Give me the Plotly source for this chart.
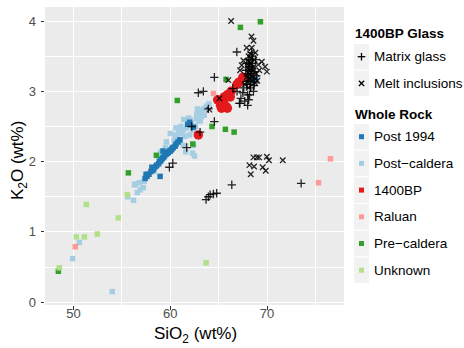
import plotly.graph_objects as go

# ---------------- data ----------------
post1994_x = [57.4, 57.6, 57.8, 58.0, 58.2, 58.3, 58.5, 58.6, 58.8, 58.9, 59.0, 59.1, 59.2, 59.3, 59.4,
              59.5, 59.6, 59.7, 59.8, 59.9, 60.0, 60.1, 60.2, 60.3, 60.5, 60.6, 60.8, 61.0, 61.8, 62.0,
              62.4, 58.95, 59.25, 68.8, 57.5, 58.1]
post1994_y = [1.76, 1.79, 1.82, 1.86, 1.88, 1.90, 1.93, 1.95, 1.97, 2.00, 2.01, 2.03, 2.05, 2.06, 2.08,
              2.10, 2.11, 2.12, 2.13, 2.15, 2.15, 2.17, 2.19, 2.20, 2.22, 2.25, 2.28, 2.31, 2.53, 2.56,
              2.49, 1.79, 2.15, 3.17, 1.82, 1.92]

postcaldera_x = [49.9, 50.6, 54.0, 55.6, 56.2, 56.3, 56.6, 56.4, 56.8, 57.3, 56.9, 57.2, 58.3, 59.0,
                 59.6, 60.0, 60.2, 60.3, 60.5, 60.7, 61.0, 61.0, 61.35, 61.35, 61.6, 62.05, 62.3, 62.5,
                 62.4, 62.7, 62.74, 63.0, 63.2, 63.42, 63.6, 63.77, 64.0, 61.8, 62.2, 61.2, 60.8, 62.9,
                 63.3, 61.5, 60.4, 60.9, 61.1, 61.7, 62.0, 62.6, 63.1, 63.5, 62.8, 61.4, 59.5, 59.2,
                 58.8, 60.6, 61.9, 62.3]
postcaldera_y = [0.62, 0.85, 0.15, 1.50, 1.45, 1.67, 1.56, 1.68, 1.70, 1.72, 1.60, 1.63, 1.86, 2.13,
                 2.28, 2.40, 2.17, 2.21, 2.38, 2.35, 2.28, 2.45, 2.45, 2.23, 2.14, 2.59, 2.12, 2.08,
                 2.23, 2.62, 2.68, 2.70, 2.64, 2.75, 2.76, 2.79, 2.82, 2.52, 2.55, 2.40, 2.30, 2.58,
                 2.72, 2.36, 2.30, 2.42, 2.50, 2.48, 2.38, 2.50, 2.58, 2.66, 2.75, 2.60, 2.20, 2.15,
                 2.05, 2.48, 2.62, 2.45]

bp1400_x = [62.9, 64.9, 65.2, 65.5, 65.8, 65.9, 66.2, 66.3, 65.9, 66.9, 67.1, 67.5, 65.6, 65.3]
bp1400_y = [2.38, 2.88, 2.80, 2.85, 2.78, 2.95, 2.92, 3.00, 2.76, 3.10, 3.13, 3.20, 2.92, 2.76]

raluan_x = [50.19, 76.56, 75.32, 64.46]
raluan_y = [0.79, 2.04, 1.70, 2.97]

precaldera_x = [48.43, 55.67, 58.56, 60.73, 64.32, 65.70, 66.60, 62.33, 65.77, 67.25, 69.32, 68.25]
precaldera_y = [0.44, 1.84, 2.09, 2.87, 2.50, 2.46, 2.42, 2.25, 3.17, 3.91, 3.99, 3.43]

unknown_x = [48.53, 50.29, 51.12, 52.46, 51.32, 54.63, 55.56, 63.70]
unknown_y = [0.49, 0.93, 0.93, 0.97, 1.39, 1.20, 1.53, 0.56]

matrix_x = [66.36, 73.53, 64.12, 63.94, 64.46, 64.8, 63.70, 59.91, 60.26, 61.7, 63.08, 64.56, 63.94,
            62.9, 63.42, 64.56, 66.46, 67.15, 62.22, 66.88,
            67.6, 67.9, 68.1, 68.3, 68.0, 68.4, 68.2, 68.6, 68.5, 67.8, 68.7, 68.9, 68.3, 68.0, 67.3,
            67.5, 68.1, 67.7, 67.2, 66.9, 68.5, 68.8, 68.4, 68.1, 67.9, 68.6, 68.2, 68.0,
            68.15, 68.35, 68.55, 67.95, 68.25, 68.45, 68.05, 68.65]
matrix_y = [1.67, 1.69, 1.53, 1.50, 1.54, 1.55, 1.46, 1.92, 1.98, 2.20, 2.42, 2.57, 2.75,
            2.98, 3.00, 3.20, 3.04, 2.83, 2.50, 3.56,
            3.05, 3.10, 3.15, 3.20, 3.25, 3.30, 3.35, 3.28, 3.40, 3.30, 3.12, 3.22, 3.05, 2.95, 2.90,
            2.98, 2.88, 2.86, 2.83, 3.00, 3.50, 3.45, 3.55, 3.45, 3.40, 3.00, 2.95, 2.80,
            3.38, 3.25, 3.18, 3.14, 3.10, 3.36, 3.22, 3.08]

melt_x = [66.29, 68.6, 68.95, 69.18, 69.98, 70.2, 71.63, 68.18, 68.66, 69.56, 69.87, 68.32, 64.04, 65.08,
          68.43, 68.25, 68.1, 69.46, 69.8, 69.98, 67.56, 67.39, 67.22, 66.0, 68.6, 68.4, 68.7, 69.1,
          68.9, 68.2, 67.9, 68.5, 68.1, 67.7, 69.2, 68.8, 68.3, 67.9, 68.6, 69.0,
          68.35, 68.15, 68.55, 68.0, 68.45, 68.75, 68.2, 68.05]
melt_y = [4.00, 2.06, 2.06, 2.06, 2.07, 2.02, 2.02, 1.95, 1.93, 1.92, 1.87, 1.82, 2.74, 2.90,
          3.62, 3.54, 3.50, 3.42, 3.35, 3.28, 3.44, 3.37, 3.30, 3.16, 3.72, 3.78, 3.45, 3.38,
          3.25, 3.30, 3.20, 3.15, 3.05, 3.10, 3.30, 3.55, 3.40, 3.62, 3.35, 3.15,
          3.47, 3.42, 3.30, 3.33, 3.22, 3.12, 3.18, 3.26]

x_ticks = [50, 60, 70]
y_ticks = [0, 1, 2, 3, 4]

glass_labels = ["Matrix glass", "Melt inclusions"]
rock_labels = ["Post 1994", "Post\u2212caldera", "1400BP", "Raluan", "Pre\u2212caldera", "Unknown"]
rock_colors = ["#1F78B4", "#A6CEE3", "#E31A1C", "#FB9A99", "#33A02C", "#B2DF8A"]

# ---------------- figure ----------------
FONT = "Liberation Sans, Arial, Helvetica, sans-serif"
L, R, T, B = 45, 120, 7, 43
W, H = 464, 348
PW, PH = W - L - R, H - T - B


def PX(px):
    return (px - L) / PW


def PY(py):
    return (H - B - py) / PH


fig = go.Figure()


def sq(x, y, color, name):
    fig.add_trace(go.Scatter(x=x, y=y, mode="markers", name=name,
                             marker=dict(symbol="square", size=5.5, color=color, line=dict(width=0))))


sq(postcaldera_x, postcaldera_y, rock_colors[1], rock_labels[1])
sq(post1994_x, post1994_y, rock_colors[0], rock_labels[0])
fig.add_trace(go.Scatter(x=bp1400_x, y=bp1400_y, mode="markers", name=rock_labels[2],
                         marker=dict(symbol="circle", size=9.5, color=rock_colors[2], line=dict(width=0))))
sq(raluan_x, raluan_y, rock_colors[3], rock_labels[3])
sq(precaldera_x, precaldera_y, rock_colors[4], rock_labels[4])
sq(unknown_x, unknown_y, rock_colors[5], rock_labels[5])

fig.add_trace(go.Scatter(x=matrix_x, y=matrix_y, mode="markers", name=glass_labels[0],
                         marker=dict(symbol="cross-thin", size=6,
                                     line=dict(width=1.3, color="rgba(0,0,0,0.85)"))))
fig.add_trace(go.Scatter(x=melt_x, y=melt_y, mode="markers", name=glass_labels[1],
                         marker=dict(symbol="x-thin", size=5.5,
                                     line=dict(width=1.3, color="rgba(0,0,0,0.85)"))))

axis_common = dict(showline=False, zeroline=False, ticks="outside", ticklen=3.5, tickwidth=1,
                   tickcolor="#333333", gridcolor="white", gridwidth=1.1,
                   tickfont=dict(family=FONT, size=13, color="#4D4D4D"))

fig.update_xaxes(range=[47.05, 77.96], tickvals=x_ticks, ticklabelstandoff=-7,
                 minor=dict(tickvals=[55, 65, 75], showgrid=True, gridcolor="white", gridwidth=0.55),
                 **axis_common)
fig.update_yaxes(range=[-0.04, 4.2], tickvals=y_ticks, ticklabelstandoff=2,
                 minor=dict(tickvals=[0.5, 1.5, 2.5, 3.5], showgrid=True, gridcolor="white", gridwidth=0.55),
                 **axis_common)

shapes = []
annotations = []

# axis titles
annotations.append(dict(text="SiO<sub>2</sub> (wt%)", x=PX(195), y=PY(335), xref="paper", yref="paper",
                        xanchor="center", yanchor="middle", showarrow=False,
                        font=dict(family=FONT, size=17, color="black")))
annotations.append(dict(text="K<sub>2</sub>O (wt%)", x=PX(19), y=PY(161), xref="paper", yref="paper",
                        xanchor="center", yanchor="middle", showarrow=False, textangle=-90,
                        font=dict(family=FONT, size=17, color="black")))

# legend (drawn manually, ggplot style)
KX0, KX1 = 354, 369
KCX = (KX0 + KX1) / 2
PITCH = 26.7


def key_box(cy):
    shapes.append(dict(type="rect", xref="paper", yref="paper",
                       x0=PX(KX0), x1=PX(KX1), y0=PY(cy - PITCH / 2 + 0.6), y1=PY(cy + PITCH / 2 - 0.6),
                       fillcolor="#F2F2F2", line=dict(width=0), layer="below"))


def label(text, cy, bold=False):
    annotations.append(dict(text=f"<b>{text}</b>" if bold else text,
                            x=PX(353 if bold else 372), y=PY(cy), xref="paper", yref="paper",
                            xanchor="left", yanchor="middle", showarrow=False,
                            font=dict(family=FONT, size=13.5, color="black")))


def seg(x0, y0, x1, y1):
    shapes.append(dict(type="line", xref="paper", yref="paper", x0=PX(x0), y0=PY(y0), x1=PX(x1), y1=PY(y1),
                       line=dict(color="black", width=1.3)))


label("1400BP Glass", 33, bold=True)
glass_cy = [56.7, 83.4]
for lab, cy in zip(glass_labels, glass_cy):
    key_box(cy)
    label(lab, cy)
# + glyph
seg(KCX - 3.8, glass_cy[0], KCX + 3.8, glass_cy[0])
seg(KCX, glass_cy[0] - 3.8, KCX, glass_cy[0] + 3.8)
# x glyph
seg(KCX - 2.6, glass_cy[1] - 2.6, KCX + 2.6, glass_cy[1] + 2.6)
seg(KCX - 2.6, glass_cy[1] + 2.6, KCX + 2.6, glass_cy[1] - 2.6)

label("Whole Rock", 114, bold=True)
for i, (lab, col) in enumerate(zip(rock_labels, rock_colors)):
    cy = 136.7 + i * PITCH
    key_box(cy)
    label(lab, cy)
    shapes.append(dict(type="rect", xref="paper", yref="paper",
                       x0=PX(KCX - 2.5), x1=PX(KCX + 2.5), y0=PY(cy - 2.5), y1=PY(cy + 2.5),
                       fillcolor=col, line=dict(width=0)))

fig.update_layout(width=W, height=H, margin=dict(l=L, r=R, t=T, b=B, pad=0),
                  plot_bgcolor="#EBEBEB", paper_bgcolor="white", showlegend=False,
                  font=dict(family=FONT), shapes=shapes, annotations=annotations)

fig.write_html("out.html")
